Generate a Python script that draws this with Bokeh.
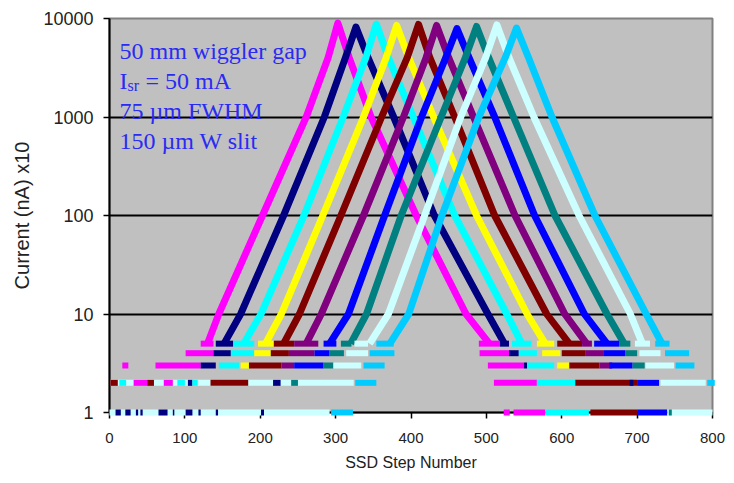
from bokeh.plotting import figure
from bokeh.models import Range1d, FixedTicker, Label, PrintfTickFormatter
from bokeh.embed import file_html
from bokeh.resources import INLINE

# ---------------- data ----------------
series_names = ["magenta", "navy", "cyan", "yellow", "maroon",
                "purple", "blue", "teal", "lightcyan", "skyblue"]
series_colors = ["#FF00FF", "#000080", "#00FFFF", "#FFFF00", "#800000",
                 "#800080", "#0000FF", "#008080", "#CCFFFF", "#00CCFF"]

# main scan curves: SSD step and current (nA x10)
magenta_x = [130, 145, 203, 261, 290, 303, 318, 347, 407, 473, 504]
magenta_y = [5, 10, 100, 1000, 4000, 9000, 4000, 1000, 100, 10, 5]
navy_x = [152, 174, 231, 285, 313, 327, 343, 377, 431, 502, 524]
navy_y = [5, 10, 100, 1000, 4000, 8200, 4000, 1000, 100, 10, 5]
cyan_x = [178, 201, 258, 310, 340, 354, 370, 403, 458, 527, 547]
cyan_y = [5, 10, 100, 1000, 4000, 8800, 4000, 1000, 100, 10, 5]
yellow_x = [207, 228, 283, 337, 367, 381, 397, 430, 487, 554, 578]
yellow_y = [5, 10, 100, 1000, 4000, 8500, 4000, 1000, 100, 10, 5]
maroon_x = [231, 252, 307, 361, 395, 410, 425, 458, 511, 580, 610]
maroon_y = [5, 10, 100, 1000, 4000, 8700, 4000, 1000, 100, 10, 5]
purple_x = [261, 281, 337, 390, 420, 434, 450, 483, 538, 604, 633]
purple_y = [5, 10, 100, 1000, 4000, 8500, 4000, 1000, 100, 10, 5]
blue_x = [292, 317, 365, 414, 446, 461, 477, 511, 564, 630, 660]
blue_y = [5, 10, 100, 1000, 4000, 7900, 4000, 1000, 100, 10, 5]
teal_x = [320, 341, 387, 440, 472, 487, 503, 536, 591, 660, 683]
teal_y = [5, 10, 100, 1000, 4000, 8300, 4000, 1000, 100, 10, 5]
lightcyan_x = [345, 370, 418, 466, 499, 514, 530, 563, 623, 691, 707]
lightcyan_y = [5, 10, 100, 1000, 4000, 8600, 4000, 1000, 100, 10, 5]
skyblue_x = [372, 397, 441, 490, 525, 540, 556, 587, 644, 712, 733]
skyblue_y = [5, 10, 100, 1000, 4000, 8000, 4000, 1000, 100, 10, 5]

# integer-count plateaus in the tails: (count, first step, last step)
magenta_steps = [(5, 121, 138), (4, 101, 138), (3, 61, 121), (3, 17, 25),
                 (5, 490, 518), (4, 491, 530), (3, 502, 550), (2, 510, 567),
                 (1, 536, 578), (1, 523, 531)]
navy_steps = [(5, 141, 164), (4, 138, 161), (3, 121, 141),
              (5, 518, 530), (4, 530, 543), (3, 550, 554)]
cyan_steps = [(5, 165, 192), (4, 161, 192), (3, 145, 172),
              (5, 534, 560), (4, 543, 567), (3, 554, 590), (2, 567, 618),
              (1, 578, 636)]
yellow_steps = [(5, 197, 218), (4, 192, 214), (3, 174, 185),
                (5, 567, 590), (4, 574, 598), (3, 594, 610)]
maroon_steps = [(5, 218, 245), (4, 214, 238), (3, 185, 228),
                (5, 594, 627), (4, 600, 631), (3, 610, 650), (2, 618, 700),
                (1, 638, 700)]
purple_steps = [(5, 245, 277), (4, 238, 272), (3, 228, 245),
                (5, 627, 640), (4, 631, 656), (3, 650, 667)]
blue_steps = [(5, 284, 301), (4, 272, 292), (3, 245, 284),
              (5, 643, 676), (4, 656, 684), (3, 663, 694), (2, 700, 729),
              (1, 700, 740)]
teal_steps = [(5, 307, 321), (4, 292, 311), (3, 284, 297),
              (5, 676, 691), (4, 684, 700), (3, 694, 710)]
lightcyan_steps = [(5, 325, 343), (4, 314, 343), (3, 297, 334),
                   (2, 1, 324), (1, 0, 292),
                   (5, 697, 717), (4, 703, 731), (3, 711, 749), (2, 731, 791),
                   (1, 740, 800)]
skyblue_steps = [(5, 354, 377), (4, 345, 378), (3, 337, 365), (2, 326, 354),
                 (1, 294, 323),
                 (5, 724, 743), (4, 737, 769), (3, 751, 776), (2, 793, 803)]

# scattered noise-floor counts of the other scans, left tail: (series index, count, x0, x1)
floor_bits = [(4, 2, 1, 11), (2, 2, 13, 22), (0, 2, 32, 50), (4, 2, 50, 59),
              (0, 2, 72, 84), (2, 2, 90, 100), (1, 2, 104, 110), (2, 2, 110, 117),
              (4, 2, 134, 184), (1, 2, 217, 227), (7, 2, 241, 250),
              (1, 1, 8, 15), (1, 1, 21, 28), (1, 1, 35, 38), (1, 1, 41, 44),
              (1, 1, 65, 77), (1, 1, 84, 86), (1, 1, 101, 110), (1, 1, 118, 121),
              (1, 1, 141, 144), (1, 1, 201, 205), (1, 2, 690, 695), (7, 1, 742, 746)]

x_ticks = [0, 100, 200, 300, 400, 500, 600, 700, 800]
y_ticks = [1, 10, 100, 1000, 10000]

curves_x = [magenta_x, navy_x, cyan_x, yellow_x, maroon_x,
            purple_x, blue_x, teal_x, lightcyan_x, skyblue_x]
curves_y = [magenta_y, navy_y, cyan_y, yellow_y, maroon_y,
            purple_y, blue_y, teal_y, lightcyan_y, skyblue_y]
steps = [magenta_steps, navy_steps, cyan_steps, yellow_steps, maroon_steps,
         purple_steps, blue_steps, teal_steps, lightcyan_steps, skyblue_steps]

# ---------------- figure ----------------
p = figure(width=734, height=483, y_axis_type="log",
           x_range=Range1d(0, 800), y_range=Range1d(1, 10000),
           output_backend="svg", toolbar_location=None,
           min_border_left=109, min_border_right=22,
           min_border_top=18, min_border_bottom=71)
p.background_fill_color = "#C0C0C0"
p.border_fill_color = "white"
p.outline_line_color = "#808080"
p.outline_line_width = 2

p.xgrid.visible = False
p.ygrid.ticker = FixedTicker(ticks=[10, 100, 1000])
p.ygrid.grid_line_color = "black"
p.ygrid.grid_line_width = 2

for ax in (p.xaxis[0], p.yaxis[0]):
    ax.axis_line_color = "black"
    ax.axis_line_width = 2
    ax.major_tick_line_color = "black"
    ax.major_tick_line_width = 1.5
    ax.major_tick_out = 6
    ax.major_tick_in = 0
    ax.minor_tick_line_color = None
    ax.major_label_text_font = "Liberation Sans"
    ax.major_label_text_color = "#222222"
    ax.axis_label_text_font = "Liberation Sans"
    ax.axis_label_text_font_style = "normal"
    ax.axis_label_text_color = "#222222"

p.xaxis.ticker = FixedTicker(ticks=x_ticks)
p.yaxis.ticker = FixedTicker(ticks=y_ticks)
p.yaxis.formatter = PrintfTickFormatter(format="%d")
p.xaxis.major_label_text_font_size = "15px"
p.yaxis.major_label_text_font_size = "18px"
p.xaxis.major_label_standoff = 14
p.yaxis.major_label_standoff = 10
p.xaxis.axis_label = "SSD Step Number"
p.yaxis.axis_label = "Current (nA) x10"
p.xaxis.axis_label_text_font_size = "16px"
p.yaxis.axis_label_text_font_size = "20px"
p.xaxis.axis_label_standoff = 8
p.yaxis.axis_label_standoff = 7

for i, color in enumerate(series_colors):
    p.line(curves_x[i], curves_y[i], line_color=color, line_width=7,
           line_join="round")
    lv = [s[0] for s in steps[i]]
    p.segment(x0=[s[1] for s in steps[i]], y0=lv,
              x1=[s[2] for s in steps[i]], y1=lv,
              line_color=color, line_width=6, level="overlay")

for idx, lvl, a, b in floor_bits:
    p.segment(x0=[a], y0=[lvl], x1=[b], y1=[lvl],
              line_color=series_colors[idx], line_width=6, level="overlay")

# ---------------- annotation text ----------------
txt = dict(x_units="screen", y_units="screen", text_font="Liberation Serif",
           text_color="#2A2AF5", text_baseline="alphabetic")
frame_bottom = 412
p.add_layout(Label(x=10, y=frame_bottom - 50, text="50 mm wiggler gap",
                   text_font_size="24px", **txt))
p.add_layout(Label(x=10, y=frame_bottom - 80, text="I",
                   text_font_size="24px", **txt))
p.add_layout(Label(x=18, y=frame_bottom - 85, text="sr",
                   text_font_size="16px", **txt))
p.add_layout(Label(x=36, y=frame_bottom - 80, text="= 50 mA",
                   text_font_size="24px", **txt))
p.add_layout(Label(x=10, y=frame_bottom - 110, text="75 \u00b5m FWHM",
                   text_font_size="24px", **txt))
p.add_layout(Label(x=10, y=frame_bottom - 140, text="150 \u00b5m W slit",
                   text_font_size="24px", **txt))

open("out.html", "w").write(file_html(p, INLINE))
